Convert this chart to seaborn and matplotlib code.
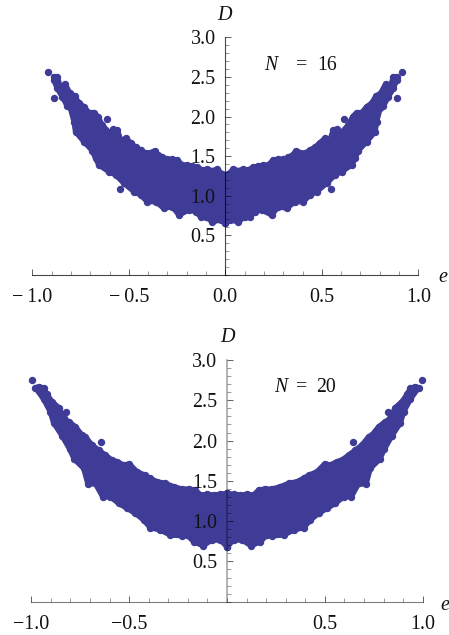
#%%
#  Importing Libraries

import numpy as np
import pandas as pd
import matplotlib
matplotlib.use('Agg')
import matplotlib.pyplot as plt
from matplotlib.ticker import MultipleLocator
import seaborn as sns

#%%
#  Data, right half only (the picture is mirror symmetric)

e_upper_16 = [0.000, 0.016, 0.042, 0.068, 0.093, 0.119, 0.145, 0.171, 0.197, 0.223, 0.249, 0.275, 0.301, 0.327, 0.349, 0.366, 0.387, 0.413, 0.439, 0.465, 0.491, 0.517, 0.539, 0.560, 0.580, 0.598, 0.638, 0.660, 0.681, 0.707, 0.733, 0.758, 0.781, 0.805, 0.831, 0.853, 0.871, 0.888]
D_upper_16 = [1.250, 1.274, 1.333, 1.316, 1.333, 1.325, 1.358, 1.375, 1.384, 1.388, 1.451, 1.459, 1.459, 1.485, 1.514, 1.565, 1.544, 1.535, 1.577, 1.611, 1.670, 1.725, 1.683, 1.830, 1.838, 1.788, 1.893, 1.998, 2.049, 2.049, 2.124, 2.167, 2.259, 2.293, 2.411, 2.356, 2.503, 2.503]
e_lower_16 = [0.000, 0.024, 0.068, 0.102, 0.128, 0.154, 0.189, 0.240, 0.275, 0.318, 0.361, 0.404, 0.439, 0.473, 0.525, 0.568, 0.603, 0.655, 0.672, 0.689, 0.733, 0.776, 0.784, 0.802, 0.819, 0.845, 0.871, 0.888]
D_lower_16 = [0.651, 0.693, 0.672, 0.736, 0.736, 0.799, 0.820, 0.757, 0.862, 0.841, 0.925, 0.925, 1.009, 1.051, 1.156, 1.262, 1.304, 1.388, 1.472, 1.569, 1.683, 1.809, 1.935, 2.103, 2.133, 2.251, 2.356, 2.461]
e_stray_16 = [0.548, 0.615, 0.888, 0.917]
D_stray_16 = [1.081, 1.965, 2.238, 2.566]

e_upper_20 = [0.000, 0.034, 0.068, 0.102, 0.136, 0.162, 0.196, 0.230, 0.273, 0.315, 0.358, 0.392, 0.421, 0.460, 0.499, 0.528, 0.562, 0.588, 0.622, 0.656, 0.690, 0.724, 0.741, 0.775, 0.809, 0.835, 0.860, 0.894, 0.920, 0.937, 0.962]
D_upper_20 = [1.345, 1.332, 1.324, 1.332, 1.324, 1.386, 1.398, 1.398, 1.427, 1.469, 1.489, 1.531, 1.572, 1.613, 1.709, 1.696, 1.738, 1.758, 1.820, 1.882, 1.944, 2.048, 2.068, 2.172, 2.234, 2.275, 2.408, 2.482, 2.573, 2.647, 2.668]
e_lower_20 = [0.000, 0.034, 0.077, 0.123, 0.170, 0.204, 0.230, 0.290, 0.341, 0.392, 0.426, 0.468, 0.511, 0.554, 0.596, 0.635, 0.673, 0.710, 0.732, 0.780, 0.804, 0.843, 0.886, 0.903, 0.937, 0.979]
D_lower_20 = [0.683, 0.766, 0.766, 0.695, 0.745, 0.828, 0.819, 0.828, 0.890, 0.919, 1.014, 1.096, 1.159, 1.221, 1.303, 1.303, 1.469, 1.456, 1.655, 1.767, 1.895, 2.060, 2.221, 2.358, 2.515, 2.656]
e_stray_20 = [0.644, 0.821, 0.996]
D_stray_20 = [1.986, 2.350, 2.751]

x_ticks_16 = [-1.0, -0.5, 0.0, 0.5, 1.0]
x_labels_16 = ['\u2212\u20091.0', '\u2212\u20090.5', '0.0', '0.5', '1.0']
x_ticks_20 = [-1.0, -0.5, 0.5, 1.0]
x_labels_20 = ['\u22121.0', '\u22120.5', '0.5', '1.0']
y_ticks = [0.5, 1.0, 1.5, 2.0, 2.5, 3.0]
y_labels = ['0.5', '1.0', '1.5', '2.0', '2.5', '3.0']

#%%
#  Plot

W, H = 449, 635
BLUE = '#3F3C98'
DOT = 7.4 * 72 / 100  # dot diameter in points
FILL_EDGE = 5.4 * 72 / 100  # stroke that closes the gaps between the edge dots

sns.set_theme(style='white')
plt.rcParams['font.family'] = ['Liberation Serif', 'DejaVu Serif']


def band(ax, e_up, D_up, e_lo, D_lo, e_st, D_st):
    # the dense middle of the cloud, then the dots along its edge
    for sign in (1, -1):
        xs = sign * np.array(list(e_up) + list(e_lo)[::-1])
        ys = list(D_up) + list(D_lo)[::-1]
        ax.fill(xs, ys, facecolor=BLUE, edgecolor=BLUE, lw=FILL_EDGE, joinstyle='round', zorder=1)
    e_all = np.array(e_up + e_lo + e_st)
    D_all = np.array(D_up + D_lo + D_st)
    pts = pd.DataFrame({'e': np.r_[e_all, -e_all], 'D': np.r_[D_all, D_all]})
    sns.scatterplot(data=pts, x='e', y='D', ax=ax, color=BLUE, s=DOT ** 2, linewidth=0,
                    clip_on=False, zorder=1)


def style(ax, xt, xl, v_color, v_width, h_color):
    ax.set_xlim(-1, 1)
    ax.set_ylim(0, 3)
    ax.patch.set_visible(False)
    ax.set_axisbelow(False)
    ax.spines[['top', 'right']].set_visible(False)
    ax.spines['left'].set_position(('data', 0))
    ax.spines['left'].set_color(v_color)
    ax.spines['left'].set_linewidth(v_width)
    ax.spines['bottom'].set_color(h_color)
    ax.spines['bottom'].set_linewidth(0.8)
    ax.set_xticks(xt, xl, fontsize=14.4, color='#111111')
    ax.set_yticks(y_ticks, y_labels, fontsize=14.4, color='#111111')
    ax.xaxis.set_minor_locator(MultipleLocator(0.1))
    ax.yaxis.set_minor_locator(MultipleLocator(0.1))
    tick_major = (0, 0, 0, 0.72)
    tick_minor = (0, 0, 0, 0.55)
    ax.tick_params(axis='x', which='major', direction='in', length=4.3, width=0.6, color=tick_major, pad=9.6, bottom=True)
    ax.tick_params(axis='x', which='minor', direction='in', length=2.8, width=0.5, color=tick_minor, bottom=True)
    ax.tick_params(axis='y', which='major', direction='in', length=4.3, width=0.6, color=tick_major, pad=7, left=True)
    ax.tick_params(axis='y', which='minor', direction='in', length=2.8, width=0.5, color=tick_minor, left=True)
    ax.set_xlabel('')
    ax.set_ylabel('')


fig = plt.figure(figsize=(W / 100, H / 100), dpi=100)

ax1 = fig.add_axes([32.3 / W, 1 - 274.9 / H, 386 / W, 237.6 / H])
band(ax1, e_upper_16, D_upper_16, e_lower_16, D_lower_16, e_stray_16, D_stray_16)
style(ax1, x_ticks_16, x_labels_16, (0, 0, 0, 0.72), 0.8, (0, 0, 0, 0.72))

ax2 = fig.add_axes([31.3 / W, 1 - 601.7 / H, 391.4 / W, 241.7 / H])
band(ax2, e_upper_20, D_upper_20, e_lower_20, D_lower_20, e_stray_20, D_stray_20)
style(ax2, x_ticks_20, x_labels_20, (0, 0, 0, 0.35), 1.2, (0, 0, 0, 0.5))


def px_text(x, y, s, style='normal', size=14.2, ha='left'):
    fig.text(x / W, 1 - y / H, s, fontsize=size, fontstyle=style, ha=ha, va='center', color='#111111')


px_text(224, 15, 'D', style='italic', size=14.5, ha='center')
px_text(443, 278, 'e', style='italic', size=14.5, ha='center')
px_text(264, 65, 'N', style='italic')
px_text(296, 65, '=')
px_text(317, 65, '16')

px_text(227, 337, 'D', style='italic', size=14.5, ha='center')
px_text(445, 605, 'e', style='italic', size=14.5, ha='center')
px_text(274, 387, 'N', style='italic')
px_text(296, 387, '=')
px_text(316, 387, '20')

fig.savefig('out.png', dpi=100)
